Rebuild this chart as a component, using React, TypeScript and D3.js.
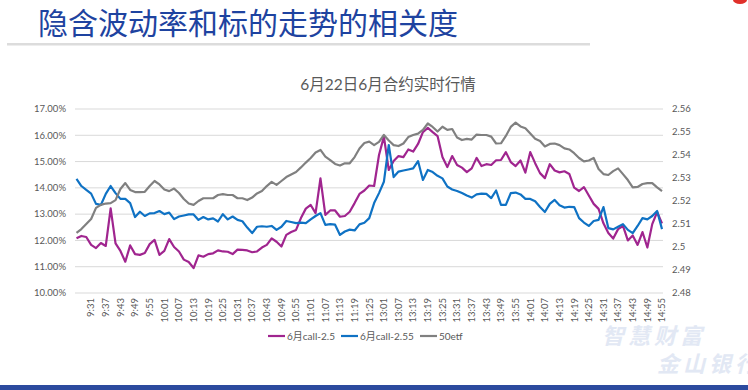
import React from 'react';
import * as d3 from 'd3';

const times: string[] = [
  '9:25','9:27','9:29','9:31','9:33','9:35','9:37','9:39','9:41','9:43','9:45','9:47','9:49','9:51','9:53','9:55','9:57','9:59',
  '10:01','10:03','10:05','10:07','10:09','10:11','10:13','10:15','10:17','10:19','10:21','10:23','10:25','10:27','10:29',
  '10:31','10:33','10:35','10:37','10:39','10:41','10:43','10:45','10:47','10:49','10:51','10:53','10:55','10:57','10:59',
  '11:01','11:03','11:05','11:07','11:09','11:11','11:13','11:15','11:17','11:19','11:21','11:23','11:25','11:27','11:29',
  '13:01','13:03','13:05','13:07','13:09','13:11','13:13','13:15','13:17','13:19','13:21','13:23','13:25','13:27','13:29',
  '13:31','13:33','13:35','13:37','13:39','13:41','13:43','13:45','13:47','13:49','13:51','13:53','13:55','13:57','13:59',
  '14:01','14:03','14:05','14:07','14:09','14:11','14:13','14:15','14:17','14:19','14:21','14:23','14:25','14:27','14:29',
  '14:31','14:33','14:35','14:37','14:39','14:41','14:43','14:45','14:47','14:49','14:51','14:53','14:55',
];

// 6月call-2.5 implied vol (%)
const call25: number[] = [
  12.08,12.17,12.13,11.83,11.71,11.90,11.79,13.22,11.89,11.60,11.19,11.81,11.48,11.45,11.52,11.86,12.02,11.45,11.60,12.05,
  11.75,11.58,11.27,11.18,10.95,11.43,11.38,11.48,11.51,11.62,11.58,11.57,11.48,11.65,11.64,11.62,11.55,11.58,11.73,11.83,
  12.08,11.95,11.77,12.21,12.32,12.40,12.85,13.21,13.35,13.04,14.36,12.97,13.14,13.14,12.90,12.93,13.09,13.42,13.77,13.90,
  14.09,14.07,15.25,15.95,14.68,15.02,15.21,15.17,15.46,15.38,15.67,16.12,16.28,16.12,15.97,15.17,14.79,15.21,14.87,14.77,
  14.60,14.74,15.14,14.83,14.90,14.87,15.05,15.06,15.36,14.98,14.83,15.04,14.58,15.36,14.94,14.56,14.37,14.90,14.66,14.59,
  14.63,14.53,14.01,13.88,14.03,13.71,13.39,13.20,12.65,12.28,12.07,12.43,12.55,12.00,12.19,11.83,12.32,11.73,12.62,13.08,
  12.65,
];

// 6月call-2.55 implied vol (%)
const call255: number[] = [
  14.34,14.07,13.92,13.78,13.39,13.35,13.77,14.07,13.80,13.58,13.58,13.42,12.89,13.09,12.93,13.03,13.04,13.12,13.00,13.06,
  12.81,12.91,12.95,12.99,12.99,12.78,12.89,12.80,12.84,12.72,13.00,12.80,12.91,12.78,12.73,12.49,12.28,12.52,12.54,12.52,
  12.55,12.40,12.52,12.74,12.70,12.66,12.68,12.66,12.80,12.93,13.04,12.59,12.62,12.60,12.21,12.34,12.41,12.38,12.61,12.67,
  12.85,13.42,13.80,14.23,15.63,14.41,14.62,14.66,14.70,14.74,15.02,14.30,14.68,14.60,14.46,14.36,14.05,13.94,13.88,13.80,
  13.71,13.63,13.75,13.78,13.77,13.61,13.90,13.35,13.35,13.80,13.82,13.75,13.58,13.58,13.49,13.27,13.08,13.39,13.54,13.34,
  13.25,13.28,13.27,12.85,12.68,12.55,12.74,12.78,13.27,12.47,12.42,12.52,12.62,12.40,12.28,12.55,12.85,12.80,12.93,13.12,
  12.43,
];

// 50etf price
const etf50: number[] = [
  2.5061,2.5078,2.5100,2.5122,2.5170,2.5183,2.5189,2.5191,2.5204,2.5252,2.5278,2.5248,2.5239,2.5239,2.5240,2.5265,2.5287,2.5272,2.5250,2.5243,
  2.5254,2.5235,2.5209,2.5189,2.5183,2.5200,2.5212,2.5212,2.5212,2.5226,2.5230,2.5226,2.5226,2.5212,2.5212,2.5204,2.5215,2.5233,2.5243,2.5265,
  2.5283,2.5270,2.5287,2.5304,2.5315,2.5326,2.5346,2.5367,2.5387,2.5411,2.5422,2.5393,2.5378,2.5361,2.5354,2.5364,2.5364,2.5391,2.5428,2.5452,
  2.5458,2.5443,2.5457,2.5487,2.5463,2.5443,2.5439,2.5450,2.5478,2.5487,2.5493,2.5509,2.5537,2.5522,2.5502,2.5523,2.5509,2.5513,2.5476,2.5465,
  2.5470,2.5467,2.5489,2.5487,2.5487,2.5480,2.5450,2.5451,2.5483,2.5522,2.5541,2.5524,2.5516,2.5493,2.5471,2.5461,2.5437,2.5448,2.5450,2.5443,
  2.5429,2.5424,2.5408,2.5387,2.5372,2.5376,2.5387,2.5339,2.5317,2.5313,2.5330,2.5342,2.5317,2.5291,2.5259,2.5261,2.5274,2.5278,2.5278,2.5259,
  2.5243,
];

const xTickLabels: string[] = [
  '9:31','9:37','9:43','9:49','9:55','10:01','10:07','10:13','10:19','10:25','10:31','10:37','10:43','10:49','10:55',
  '11:01','11:07','11:13','11:19','11:25','13:01','13:07','13:13','13:19','13:25','13:31','13:37','13:43','13:49','13:55',
  '14:01','14:07','14:13','14:19','14:25','14:31','14:37','14:43','14:49','14:55',
];
const leftTicks: number[] = [10, 11, 12, 13, 14, 15, 16, 17];
const rightTicks: number[] = [2.48, 2.49, 2.5, 2.51, 2.52, 2.53, 2.54, 2.55, 2.56];

const seriesNames = ['6月call-2.5', '6月call-2.55', '50etf'];
const seriesColors = ['#A0258F', '#0F72C4', '#808080'];

const pageTitle = '隐含波动率和标的走势的相关度';
const chartTitle = '6月22日6月合约实时行情';
const watermark1 = '智慧财富';
const watermark2 = '金山银行';

const FONT = "Lato, 'Noto Sans CJK SC', sans-serif";
const CJK = "'Noto Sans CJK SC', sans-serif";

export default function App() {
  const W = 748, H = 390;
  const plotL = 75, plotR = 663, plotT = 109, plotB = 293;
  const x = d3.scalePoint<string>().domain(times).range([76.5, 662]);
  const yL = d3.scaleLinear().domain([10, 17]).range([plotB, plotT]);
  const yR = d3.scaleLinear().domain([2.48, 2.56]).range([plotB, plotT]);

  const lineL = d3.line<number>().x((_, i) => x(times[i]) as number).y(d => yL(d));
  const lineR = d3.line<number>().x((_, i) => x(times[i]) as number).y(d => yR(d));
  const fmtL = d3.format('.2f');

  const legendItems = [
    { name: seriesNames[0], color: seriesColors[0], x: 268 },
    { name: seriesNames[1], color: seriesColors[1], x: 341 },
    { name: seriesNames[2], color: seriesColors[2], x: 420 },
  ];

  return (
    <svg width={W} height={H} style={{ position: 'absolute', left: 0, top: 0, background: '#fff' }}>
      <rect x={0} y={0} width={W} height={H} fill="#fff" />
      {/* page header */}
      <text x={38} y={34} fontFamily={CJK} fontSize={30} fill="#1E43A0">{pageTitle}</text>
      <rect x={7} y={43} width={583} height={2.5} fill="#DCDCDC" />
      <ellipse cx={740} cy={0} rx={7} ry={4} fill="#E0302A" />

      {/* chart title */}
      <text x={388} y={90} textAnchor="middle" fontFamily={FONT} fontSize={15.5} fill="#595959">{chartTitle}</text>

      {/* gridlines */}
      {leftTicks.map(t => (
        <line key={'g' + t} x1={plotL} x2={plotR} y1={yL(t)} y2={yL(t)} stroke="#D9D9D9" strokeWidth={1} />
      ))}

      {/* left axis labels */}
      {leftTicks.map(t => (
        <text key={'l' + t} x={66} y={yL(t)} dy="0.35em" textAnchor="end" fontFamily={FONT} fontSize={9.5} fill="#595959">
          {fmtL(t) + '%'}
        </text>
      ))}
      {/* right axis labels */}
      {rightTicks.map(t => (
        <text key={'r' + t} x={672} y={yR(t)} dy="0.35em" textAnchor="start" fontFamily={FONT} fontSize={9.5} fill="#595959">
          {String(t)}
        </text>
      ))}
      {/* x labels */}
      {xTickLabels.map(lbl => (
        <text key={'x' + lbl} transform={`translate(${x(lbl)},298) rotate(-90)`} dy="0.35em" textAnchor="end"
          fontFamily={FONT} fontSize={9.5} fill="#595959">{lbl}</text>
      ))}

      {/* series */}
      <path d={lineL(call25) || ''} fill="none" stroke={seriesColors[0]} strokeWidth={2.2} strokeLinejoin="round" />
      <path d={lineL(call255) || ''} fill="none" stroke={seriesColors[1]} strokeWidth={2.2} strokeLinejoin="round" />
      <path d={lineR(etf50) || ''} fill="none" stroke={seriesColors[2]} strokeWidth={2.2} strokeLinejoin="round" />

      {/* legend */}
      {legendItems.map(it => (
        <g key={it.name}>
          <line x1={it.x} x2={it.x + 17} y1={336} y2={336} stroke={it.color} strokeWidth={2.2} />
          <text x={it.x + 19} y={336} dy="0.35em" fontFamily={FONT} fontSize={10} fill="#595959">{it.name}</text>
        </g>
      ))}

      {/* watermark */}
      <text x={602} y={344} fontFamily={CJK} fontWeight={700} fontStyle="italic" fontSize={22} letterSpacing={4} fill="#E2E8F4">{watermark1}</text>
      <text x={657} y={372} fontFamily={CJK} fontWeight={700} fontStyle="italic" fontSize={22} letterSpacing={4} fill="#E2E8F4">{watermark2}</text>

      {/* bottom bar */}
      <rect x={0} y={385} width={W} height={5} fill="#2C4A9E" />
    </svg>
  );
}
